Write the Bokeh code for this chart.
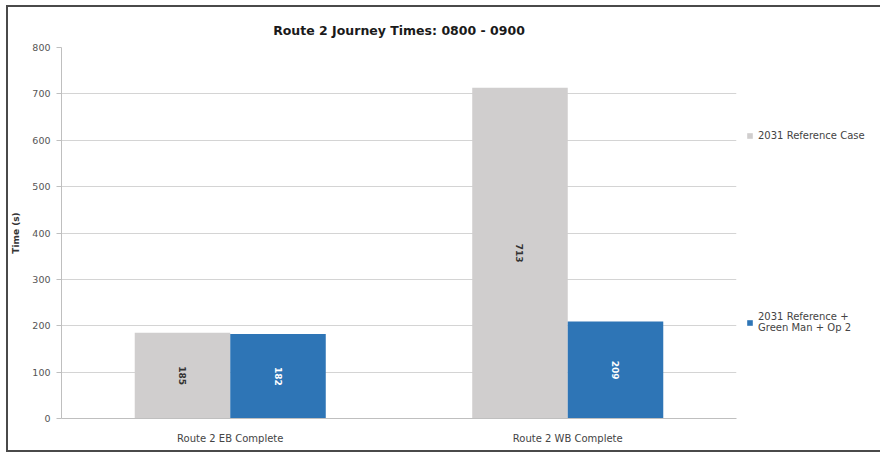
import numpy as np
from bokeh.plotting import figure
from bokeh.models import (ColumnDataSource, FactorRange, Range1d, Legend, LegendItem,
                          FixedTicker)
from bokeh.core.properties import value
from bokeh.transform import dodge
from bokeh.embed import file_html
from bokeh.resources import INLINE

# Journey times (seconds) per route direction
routes = ["Route 2 EB Complete", "Route 2 WB Complete"]
reference_case = [185, 713]
with_green_man = [182, 209]
series_names = ["2031 Reference Case", "2031 Reference +\nGreen Man + Op 2"]
y_ticks = [0, 100, 200, 300, 400, 500, 600, 700, 800]

GREY = "#D0CECE"
BLUE = "#2E75B6"
FONT = "DejaVu Sans"

src = ColumnDataSource(dict(
    route=routes,
    ref=reference_case,
    gm=with_green_man,
    ref_mid=[v / 2 for v in reference_case],
    gm_mid=[v / 2 for v in with_green_man],
    ref_txt=[str(v) for v in reference_case],
    gm_txt=[str(v) for v in with_green_man],
))

p = figure(frame_width=675, frame_height=371, x_range=FactorRange(*routes),
           y_range=Range1d(0, 800), output_backend="svg", toolbar_location=None,
           min_border_left=52, min_border_right=140, min_border_top=40, min_border_bottom=32)
p.x_range.range_padding = 0
# chart frame drawn around the canvas
p.margin = (5, 0, 0, 6)
p.styles = {"border-top": "2px solid #4a4a4a", "border-left": "2px solid #4a4a4a",
            "border-bottom": "2px solid #4a4a4a"}

bw = 0.283
r_ref = p.vbar(x=dodge("route", -bw / 2, range=p.x_range), top="ref", width=bw, source=src,
               fill_color=GREY, line_color=None)
r_gm = p.vbar(x=dodge("route", bw / 2, range=p.x_range), top="gm", width=bw, source=src,
              fill_color=BLUE, line_color=None)

# value labels, rotated inside bars
p.text(x=dodge("route", -bw / 2, range=p.x_range), y="ref_mid", text="ref_txt", source=src,
       angle=-np.pi / 2, text_align="center", text_baseline="middle",
       text_font=value(FONT), text_font_size="9px", text_font_style="bold",
       text_color="#333333")
p.text(x=dodge("route", bw / 2, range=p.x_range), y="gm_mid", text="gm_txt", source=src,
       angle=-np.pi / 2, text_align="center", text_baseline="middle",
       text_font=value(FONT), text_font_size="9px", text_font_style="bold",
       text_color="#ffffff")

# title
p.title.text = "Route 2 Journey Times: 0800 - 0900"
p.title.align = "center"
p.title.text_font = FONT
p.title.text_font_size = "12.5px"
p.title.text_font_style = "bold"
p.title.text_color = "#1a1a1a"
p.title.standoff = 20

# axes
p.yaxis.ticker = FixedTicker(ticks=y_ticks)
p.yaxis.axis_label = "Time (s)"
p.yaxis.axis_label_text_font = FONT
p.yaxis.axis_label_text_font_size = "9px"
p.yaxis.axis_label_text_font_style = "bold"
p.yaxis.axis_label_text_color = "#333333"
p.yaxis.axis_label_standoff = 8
p.yaxis.major_label_text_font = FONT
p.yaxis.major_label_text_font_size = "9.5px"
p.yaxis.major_label_text_color = "#555555"
p.yaxis.axis_line_color = "#BFBFBF"
p.yaxis.major_tick_line_color = "#BFBFBF"
p.yaxis.major_tick_out = 5
p.yaxis.major_tick_in = 0
p.yaxis.major_label_standoff = 6
p.yaxis.minor_tick_line_color = None

p.xaxis.major_label_text_font = FONT
p.xaxis.major_label_text_font_size = "10px"
p.xaxis.major_label_text_color = "#444444"
p.xaxis.axis_line_color = "#BFBFBF"
p.xaxis.major_tick_line_color = None
p.xaxis.major_label_standoff = 8

p.xgrid.grid_line_color = None
p.ygrid.grid_line_color = "#D4D4D4"
p.outline_line_color = None

# legend to the right of the plot area
legend = Legend(items=[LegendItem(label=series_names[0], renderers=[r_ref]),
                       LegendItem(label=series_names[1], renderers=[r_gm])],
                location=(10, 85), orientation="vertical", spacing=170,
                label_text_font=FONT, label_text_font_size="10px", label_text_color="#444444",
                label_height=12, glyph_width=7, glyph_height=7, label_standoff=5,
                padding=0, margin=0, background_fill_alpha=0, border_line_color=None)
p.add_layout(legend, "right")

open("out.html", "w").write(file_html(p, INLINE))
